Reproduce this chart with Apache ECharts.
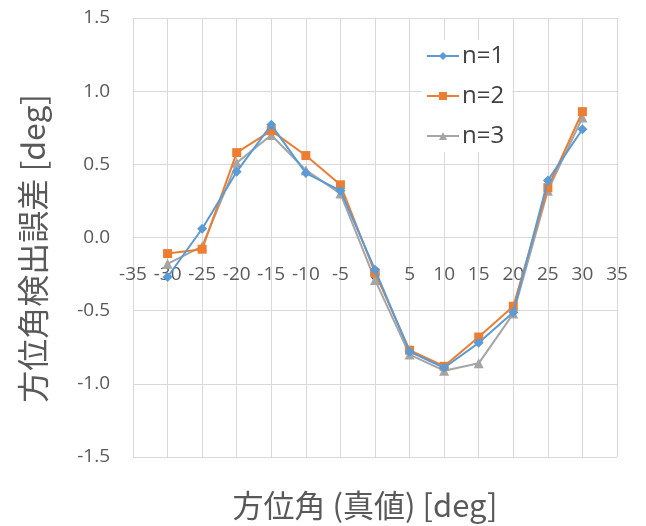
<!DOCTYPE html>
<html><head><meta charset="utf-8">
<script src="https://cdn.jsdelivr.net/npm/echarts@6/dist/echarts.min.js"></script>
<style>html,body{margin:0;padding:0;background:#fff}#c{width:646px;height:526px}</style>
</head><body><div id="c"></div>
<script>
const angles = [-30, -25, -20, -15, -10, -5, 0, 5, 10, 15, 20, 25, 30];
const n1 = [-0.27, 0.06, 0.45, 0.77, 0.44, 0.32, -0.22, -0.78, -0.89, -0.72, -0.51, 0.39, 0.74];
const n2 = [-0.11, -0.08, 0.58, 0.73, 0.56, 0.36, -0.24, -0.77, -0.88, -0.68, -0.47, 0.34, 0.86];
const n3 = [-0.18, -0.06, 0.51, 0.70, 0.46, 0.30, -0.29, -0.80, -0.91, -0.86, -0.52, 0.32, 0.82];
const seriesNames = ['n=1', 'n=2', 'n=3'];
const xTicks = {min: -35, max: 35, step: 5};
const yTicks = {min: -1.5, max: 1.5, step: 0.5};

const pair = (arr) => angles.map((a, i) => [a, arr[i]]);
const font = '"Open Sans", "Noto Sans CJK JP", sans-serif';
const cjk = '"Noto Sans CJK JP", sans-serif';
const colors = ['#5B9BD5', '#ED7D31', '#A5A5A5'];
const symbols = ['diamond', 'rect', 'triangle'];
const sizes = [10, 9, 10];

const gridTop = 18, gridBottom = 69, H = 526;
const plotH = H - gridTop - gridBottom;
// shift the x axis (line + labels) up to y = 0, as in the original
const zeroShift = plotH * (yTicks.max - 0) / (yTicks.max - yTicks.min) - plotH;

const chart = echarts.init(document.getElementById('c'));
chart.setOption({
  animation: false,
  backgroundColor: '#fff',
  title: {
    text: '方位角 (真値) [deg]', left: 365, top: 490, textAlign: 'center', padding: 0,
    textStyle: {fontSize: 31, color: '#595959', fontFamily: cjk, fontWeight: 'normal'}
  },
  grid: {left: 133, right: 29, top: gridTop, bottom: gridBottom, containLabel: false, outerBoundsMode: 'none'},
  legend: {
    orient: 'vertical', left: 422, top: 40,
    itemWidth: 32, itemHeight: 10, itemGap: 16,
    backgroundColor: '#fff', padding: [4, 8, 4, 4],
    textStyle: {fontSize: 24, color: '#404040', fontFamily: font, padding: [0, 0, 0, -2]},
    data: seriesNames
  },
  xAxis: {
    type: 'value', min: xTicks.min, max: xTicks.max, interval: xTicks.step,
    position: 'bottom', offset: zeroShift,
    axisLine: {show: true, onZero: false, lineStyle: {color: '#d9d9d9', width: 1}},
    axisTick: {show: false},
    splitLine: {show: true, lineStyle: {color: '#d9d9d9', width: 1}},
    axisLabel: {fontSize: 19, color: '#595959', fontFamily: font, margin: 28, showMinLabel: true, showMaxLabel: true}
  },
  yAxis: {
    type: 'value', min: yTicks.min, max: yTicks.max, interval: yTicks.step,
    axisLine: {show: true, lineStyle: {color: '#d9d9d9', width: 1}},
    axisTick: {show: false},
    splitLine: {show: true, lineStyle: {color: '#d9d9d9', width: 1}},
    axisLabel: {fontSize: 19, color: '#595959', fontFamily: font, margin: 23, formatter: v => v.toFixed(1)},
    name: '方位角検出誤差 [deg]', nameLocation: 'middle', nameGap: 84, nameRotate: 90,
    nameTextStyle: {fontSize: 32, color: '#595959', fontFamily: cjk, padding: [0, 22, 0, 0]}
  },
  series: [n1, n2, n3].map((d, i) => ({
    name: seriesNames[i], type: 'line', data: pair(d),
    symbol: symbols[i], symbolSize: sizes[i], showSymbol: true,
    lineStyle: {color: colors[i], width: 2},
    itemStyle: {color: colors[i]},
    z: 3 - i
  }))
});
</script></body></html>
